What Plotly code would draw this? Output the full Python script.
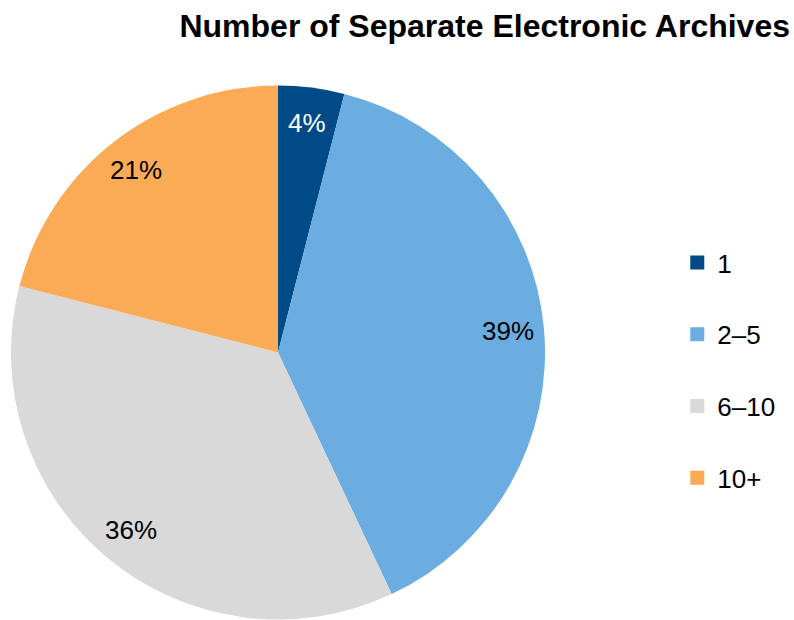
import math
import plotly.graph_objects as go

categories = ["1", "2–5", "6–10", "10+"]
values = [4, 39, 36, 21]
colors = ["#004B87", "#6BADE0", "#D9D9D9", "#FBAA55"]
label_colors = ["white", "black", "black", "black"]
title_text = "Number of Separate Electronic Archives"

W, H = 794, 620
cx, cy, r = 278, 352.5, 267
FONT = "Liberation Sans, Arial, sans-serif"

fig = go.Figure()
fig.add_trace(go.Pie(
    labels=categories, values=values, sort=False, direction="clockwise", rotation=0,
    marker=dict(colors=colors, line=dict(width=0)),
    textinfo="none", hoverinfo="label+percent", showlegend=False,
    domain=dict(x=[(cx - r) / W, (cx + r) / W], y=[1 - (cy + r) / H, 1 - (cy - r) / H]),
))

# legend entries via invisible helper traces
for i, (c, col) in enumerate(zip(categories, colors)):
    fig.add_trace(go.Scatter(
        x=[None], y=[None], mode="markers", name=c, legendgroup=f"g{i}",
        marker=dict(symbol="square", size=14, color=col),
    ))

# percentage labels positioned from the data
total = sum(values)
cum = 0
annotations = []
for v, tc in zip(values, label_colors):
    mid = (cum + v / 2) / total * 2 * math.pi
    cum += v
    rr = 0.865 * r
    px = cx + rr * math.sin(mid)
    py = cy - rr * math.cos(mid)
    annotations.append(dict(
        x=px / W, y=1 - py / H, xref="paper", yref="paper",
        text=f"{round(v / total * 100)}%", showarrow=False,
        font=dict(family=FONT, size=26, color=tc), xanchor="center", yanchor="middle",
    ))

fig.update_layout(
    width=W, height=H,
    margin=dict(l=0, r=0, t=0, b=0),
    paper_bgcolor="white", plot_bgcolor="white",
    title=dict(text=f"<b>{title_text}</b>", x=790 / W, xanchor="right", xref="container",
               y=1 - 26 / H, yanchor="middle", yref="container",
               font=dict(family=FONT, size=32, color="black")),
    xaxis=dict(visible=False), yaxis=dict(visible=False),
    legend=dict(x=0.853, y=1 - 239 / H, xanchor="left", yanchor="top",
                traceorder="grouped", tracegroupgap=35,
                font=dict(family=FONT, size=26, color="black"),
                itemsizing="trace", bgcolor="rgba(0,0,0,0)"),
    annotations=annotations,
    font=dict(family=FONT),
)

fig.write_html("out.html", config={"displayModeBar": False},
               post_script="document.body.style.margin='0';")
